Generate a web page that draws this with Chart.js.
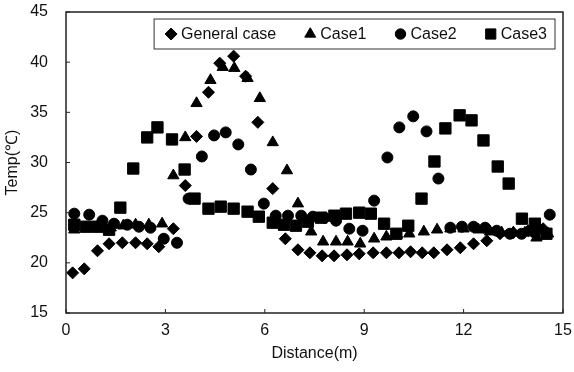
<!DOCTYPE html>
<html><head><meta charset="utf-8">
<script src="https://cdn.jsdelivr.net/npm/chart.js@4.4.0/dist/chart.umd.min.js"></script>
<style>html,body{margin:0;padding:0;background:#fff;}#wrap{width:574px;height:372px;position:relative;}</style>
</head><body><div id="wrap"><canvas id="c"></canvas></div>
<script>
const xTicks = [0, 3, 6, 9, 12, 15];
const yTicks = [15, 20, 25, 30, 35, 40, 45];
const seriesNames = ['General case', 'Case1', 'Case2', 'Case3'];

const generalX = [0.2,0.55,0.95,1.3,1.7,2.1,2.45,2.8,3.24,3.6,3.94,4.3,4.64,5.06,5.42,5.79,6.24,6.62,7.0,7.36,7.73,8.09,8.48,8.85,9.27,9.67,10.05,10.4,10.75,11.1,11.5,11.9,12.3,12.7,13.1,13.5,13.95,14.4];
const generalY = [19.0,19.4,21.2,21.9,22.0,22.0,21.9,21.6,23.4,27.7,32.6,37.0,39.9,40.6,38.6,34.0,27.4,22.4,21.3,21.0,20.7,20.7,20.8,20.9,21.0,21.0,21.0,21.1,21.0,21.0,21.3,21.5,21.9,22.2,22.9,23.0,23.2,23.4];

const case1X = [0.25,0.6,0.95,1.35,1.73,2.1,2.5,2.9,3.24,3.6,3.94,4.36,4.73,5.08,5.48,5.85,6.24,6.67,7.0,7.4,7.76,8.15,8.5,8.88,9.3,9.67,10.0,10.36,10.8,11.2,11.6,12.0,12.45,12.8,13.15,13.5,13.85,14.2,14.55];
const case1Y = [23.3,23.5,23.6,23.5,23.7,23.8,23.8,23.9,28.7,32.5,35.9,38.2,39.5,39.4,38.4,36.4,32.0,29.2,25.9,23.1,22.1,22.1,22.1,21.9,22.4,22.6,22.8,22.9,23.1,23.3,23.4,23.4,23.3,23.1,23.0,23.0,23.0,22.5,22.9];

const case2X = [0.25,0.7,1.1,1.45,1.85,2.2,2.55,2.95,3.35,3.7,4.1,4.47,4.82,5.2,5.58,5.97,6.33,6.7,7.1,7.45,7.8,8.15,8.55,8.95,9.3,9.7,10.06,10.48,10.88,11.24,11.6,11.95,12.3,12.65,13.0,13.4,13.75,14.15,14.6];
const case2Y = [24.9,24.8,24.2,23.9,23.8,23.6,23.5,22.4,22.0,26.4,30.6,32.7,33.0,31.8,29.3,25.9,24.7,24.7,24.7,24.6,24.5,24.2,23.4,23.2,26.2,30.5,33.5,34.6,33.1,28.4,23.5,23.6,23.6,23.5,23.2,22.9,22.9,23.0,24.8];

const case3X = [0.25,0.6,0.95,1.3,1.64,2.03,2.45,2.76,3.2,3.58,3.88,4.3,4.67,5.06,5.48,5.82,6.24,6.58,6.94,7.3,7.7,8.1,8.45,8.85,9.2,9.6,9.97,10.33,10.73,11.12,11.45,11.88,12.24,12.6,13.03,13.36,13.76,14.15,14.5];
const case3Y = [23.8,23.6,23.6,23.3,25.5,29.4,32.5,33.5,32.3,29.3,26.4,25.4,25.6,25.4,25.1,24.6,24.0,23.8,23.7,24.1,24.5,24.7,24.9,25.0,24.9,23.9,22.9,23.7,26.4,30.1,33.4,34.7,34.2,32.2,29.6,27.9,24.4,23.9,22.9];

const FONT = '"Liberation Sans", Arial, sans-serif';
Chart.defaults.font.family = FONT;
Chart.defaults.font.size = 16;
Chart.defaults.color = '#111';

const styles = [
  {pointStyle: 'rectRot', radius: 6, legendRadius: 6},
  {pointStyle: 'triangle', radius: 6.5, legendRadius: 6.3},
  {pointStyle: 'circle', radius: 5.5, legendRadius: 5.2},
  {pointStyle: 'rect', radius: 8, legendRadius: 7.2}
];
const xs = [generalX, case1X, case2X, case3X];
const ys = [generalY, case1Y, case2Y, case3Y];

const datasets = seriesNames.map((name, i) => ({
  label: name,
  data: xs[i].map((x, j) => ({x: x, y: ys[i][j]})),
  pointStyle: styles[i].pointStyle,
  pointRadius: styles[i].radius,
  backgroundColor: '#000',
  borderColor: '#000',
  borderWidth: 1,
  showLine: false
}));

const framePlugin = {
  id: 'frame',
  afterDraw(chart) {
    const {ctx, chartArea: a, scales} = chart;
    ctx.save();
    ctx.strokeStyle = '#222';
    ctx.lineWidth = 1.5;
    ctx.strokeRect(a.left, a.top, a.right - a.left, a.bottom - a.top);
    ctx.lineWidth = 1;
    xTicks.forEach(v => {
      const px = scales.x.getPixelForValue(v);
      ctx.beginPath(); ctx.moveTo(px, a.bottom); ctx.lineTo(px, a.bottom - 4); ctx.stroke();
    });
    yTicks.forEach(v => {
      const py = scales.y.getPixelForValue(v);
      ctx.beginPath(); ctx.moveTo(a.left, py); ctx.lineTo(a.left + 4, py); ctx.stroke();
    });
    // legend
    ctx.font = '16px ' + FONT;
    ctx.textBaseline = 'middle';
    ctx.textAlign = 'left';
    const markerHalf = 6, textOff = 10, itemGap = 28;
    const widths = seriesNames.map(n => ctx.measureText(n).width);
    let total = 0;
    widths.forEach((w, i) => { total += markerHalf + textOff + w + (i < widths.length - 1 ? itemGap : 0); });
    const right = a.right - 8;
    const start = right - 8 - total;
    const boxL = start - 11, boxT = a.top + 7, boxB = a.top + 37;
    ctx.fillStyle = '#fff';
    ctx.fillRect(boxL, boxT, right - boxL, boxB - boxT);
    ctx.strokeStyle = '#333';
    ctx.lineWidth = 1;
    ctx.strokeRect(boxL, boxT, right - boxL, boxB - boxT);
    const cy = (boxT + boxB) / 2;
    let x = start;
    seriesNames.forEach((n, i) => {
      const cx = x + markerHalf;
      ctx.fillStyle = '#000'; ctx.strokeStyle = '#000';
      Chart.helpers.drawPoint(ctx, {pointStyle: styles[i].pointStyle, radius: styles[i].legendRadius, rotation: 0, borderWidth: 1}, cx, cy);
      ctx.fillStyle = '#111';
      ctx.fillText(n, cx + textOff, cy + 1);
      x = cx + textOff + widths[i] + itemGap;
    });
    ctx.restore();
  }
};

new Chart(document.getElementById('c'), {
  type: 'scatter',
  data: {datasets},
  plugins: [framePlugin],
  options: {
    responsive: true,
    maintainAspectRatio: false,
    animation: false,
    devicePixelRatio: 1,
    layout: {padding: {top: 12, right: 11, left: 0, bottom: 0}},
    plugins: {legend: {display: false}, tooltip: {enabled: false}},
    scales: {
      x: {
        type: 'linear', min: 0, max: 15,
        afterBuildTicks: s => { s.ticks = xTicks.map(v => ({value: v})); },
        afterFit: s => { s.height = 59; s.paddingLeft = 0; s.paddingRight = 0; },
        grid: {display: false, drawTicks: false},
        border: {display: false},
        ticks: {padding: 8, color: '#111', font: {size: 16}},
        title: {display: true, text: 'Distance(m)', color: '#111', font: {size: 16}, padding: {top: 0, bottom: 9}}
      },
      y: {
        type: 'linear', min: 15, max: 45,
        afterBuildTicks: s => { s.ticks = yTicks.map(v => ({value: v})); },
        afterFit: s => { s.width = 66; s.paddingTop = 0; s.paddingBottom = 0; },
        grid: {display: false, drawTicks: false},
        border: {display: false},
        ticks: {padding: 18, color: '#111', font: {size: 16}},
        title: {display: true, text: 'Temp(℃)', color: '#111', font: {size: 16}, padding: {top: 3, bottom: 0}}
      }
    }
  }
});
</script>
</body></html>
